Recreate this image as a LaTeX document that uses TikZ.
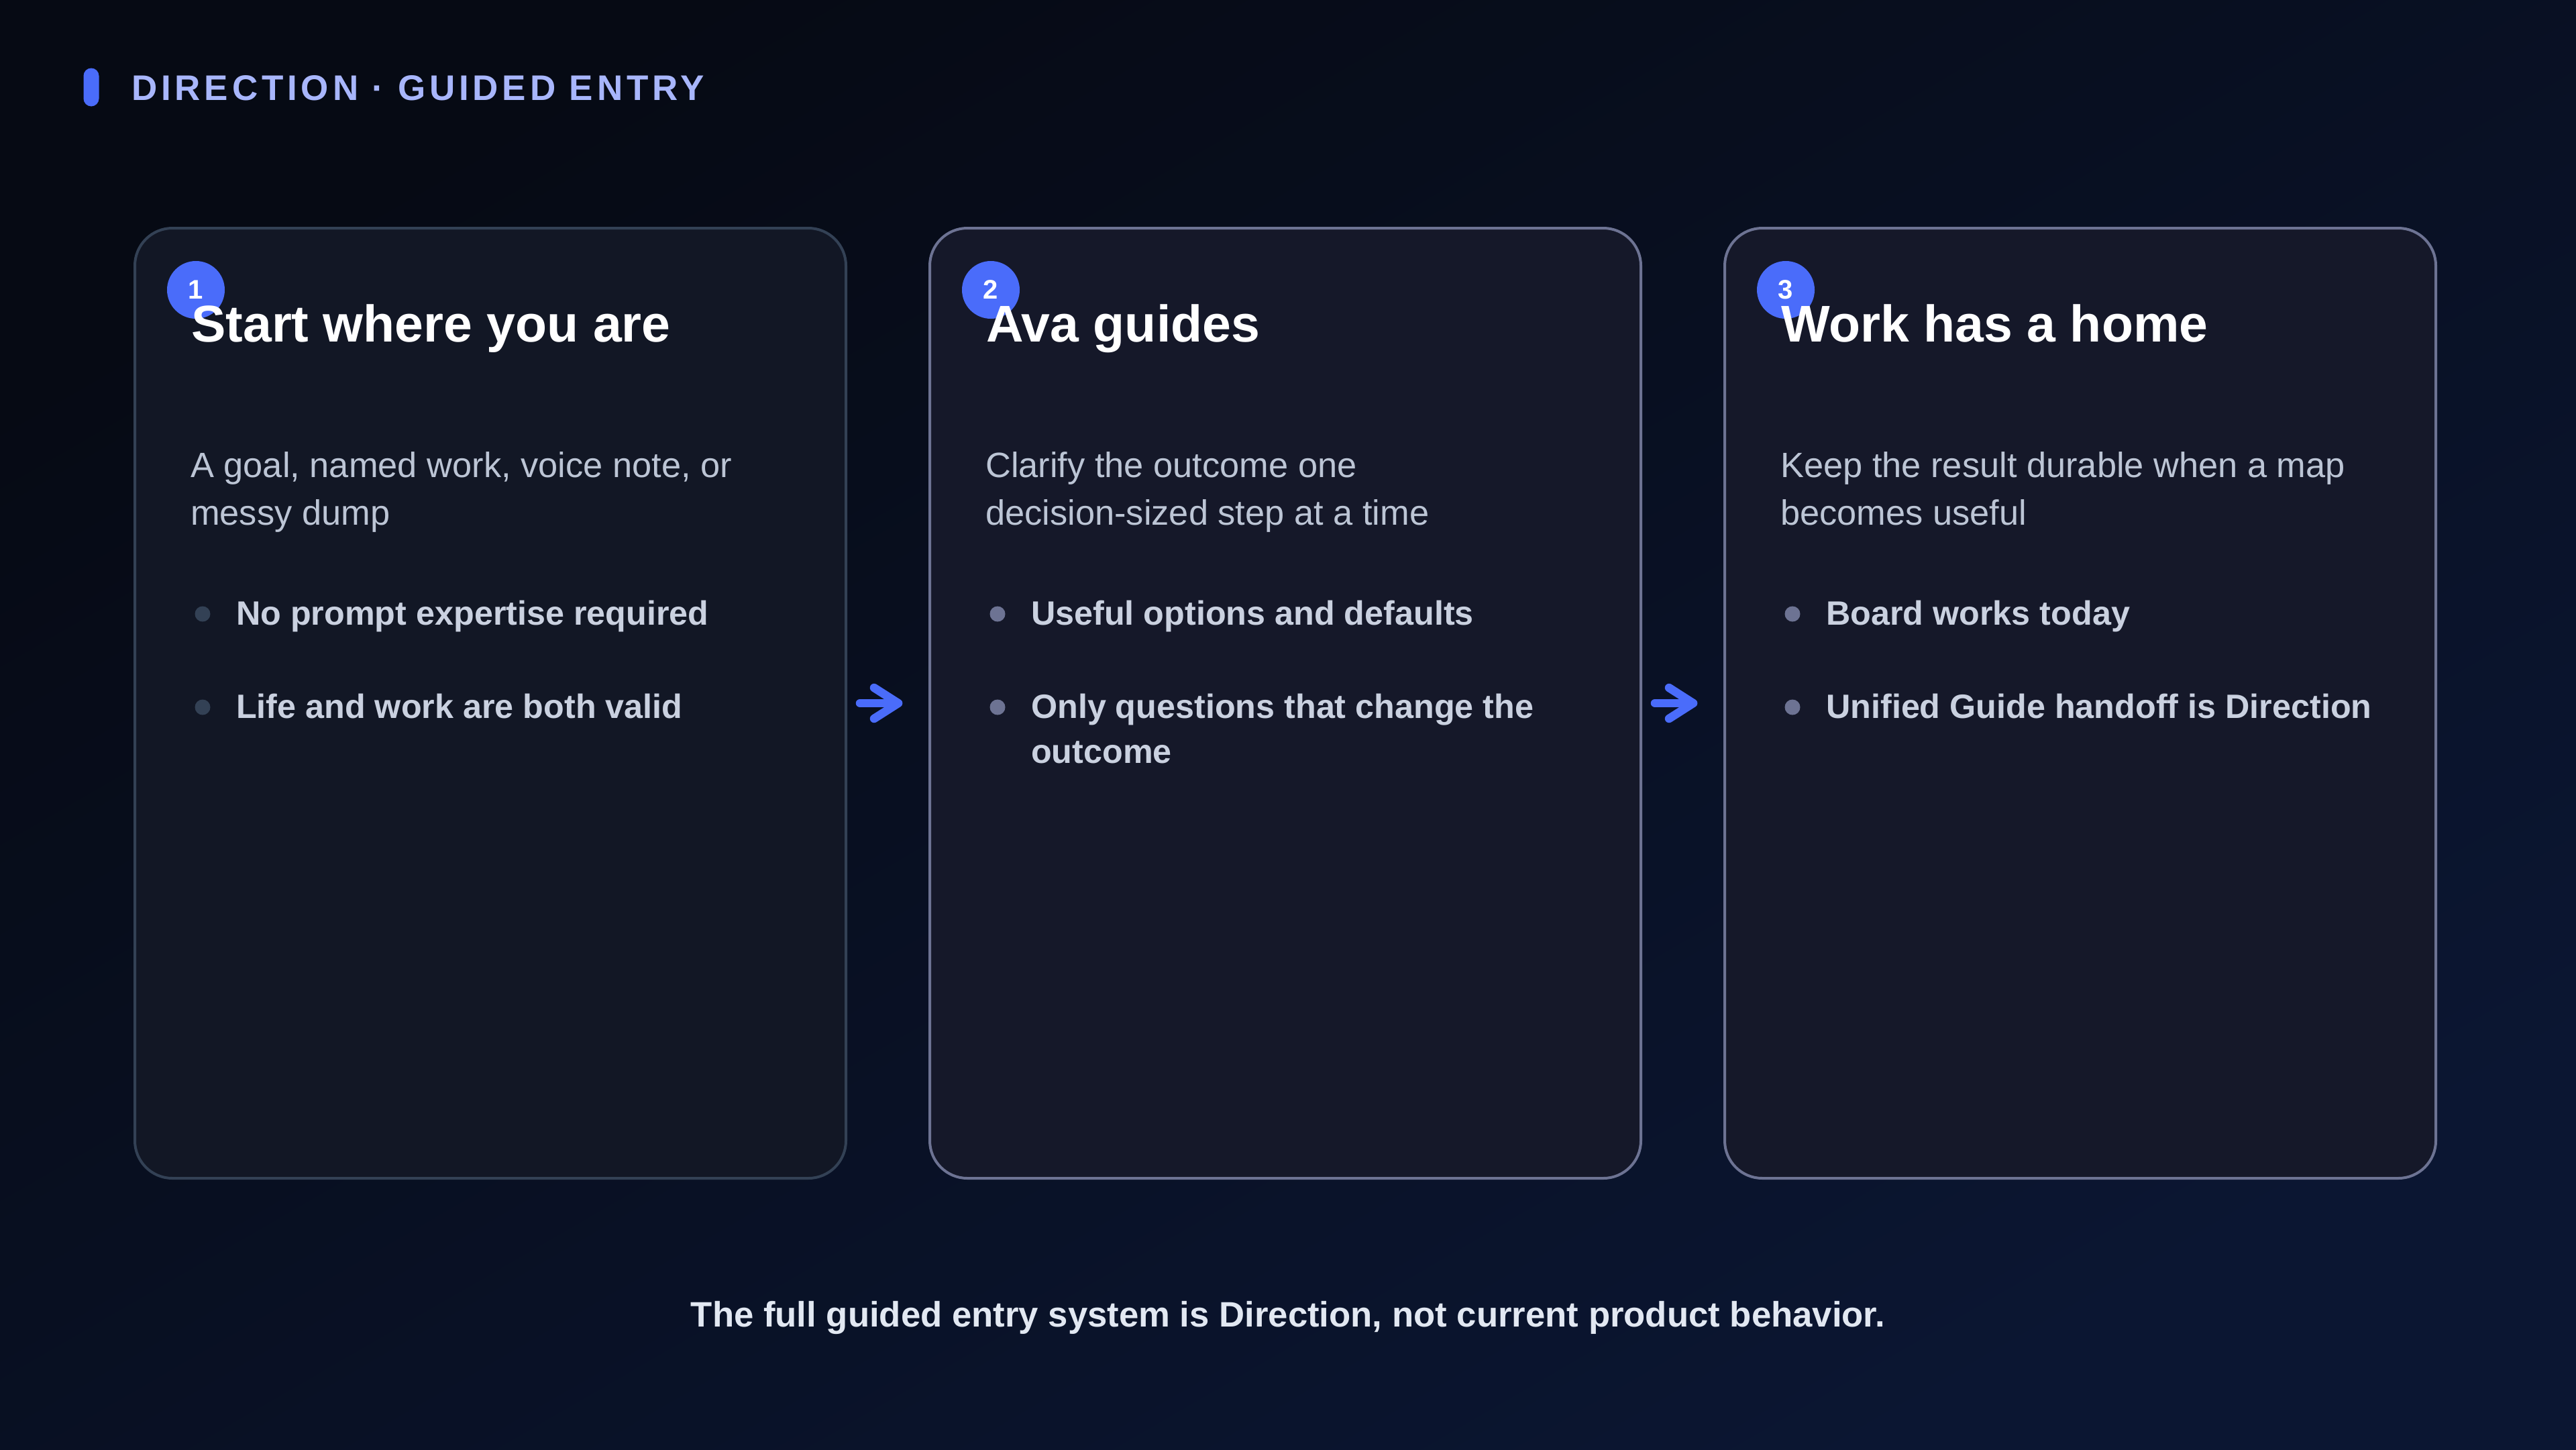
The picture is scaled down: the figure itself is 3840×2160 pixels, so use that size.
\documentclass[tikz,border=0pt]{standalone}
\usepackage{fontspec}
\setmainfont{Liberation Sans}
\newfontfamily\headfont[LetterSpace=11]{Liberation Sans}
\definecolor{bgA}{HTML}{060A14}
\definecolor{bgB}{HTML}{0B1632}
\definecolor{accent}{HTML}{4A6CFA}
\definecolor{headc}{HTML}{A8B6FC}
\definecolor{bordA}{HTML}{334155}
\definecolor{fillA}{HTML}{121725}
\definecolor{bordB}{HTML}{6D7393}
\definecolor{fillB}{HTML}{151829}
\definecolor{bodyc}{HTML}{BCC5D5}
\definecolor{bulc}{HTML}{CAD1E0}
\definecolor{footc}{HTML}{E2E8F2}
\begin{document}
\begin{tikzpicture}[x=1pt,y=-1pt,
  card/.style={draw, line width=4pt, rounded corners=56pt, minimum width=1060pt, minimum height=1416pt, inner sep=0pt, outer sep=0pt},
  carda/.style={card, draw=bordA, fill=fillA},
  cardb/.style={card, draw=bordB, fill=fillB},
  badge/.style={circle, fill=accent, minimum size=86pt, inner sep=0pt, text=white, font=\fontsize{40}{48}\selectfont\bfseries},
  ttl/.style={anchor=base west, inner sep=0pt, text=white, font=\fontsize{77}{92}\selectfont\bfseries},
  body/.style={anchor=base west, inner sep=0pt, align=left, text=bodyc, font=\fontsize{52.4}{71}\selectfont},
  btxt/.style={anchor=base west, inner sep=0pt, align=left, text=bulc, font=\fontsize{50.3}{67}\selectfont\bfseries},
  dota/.style={circle, minimum size=23pt, inner sep=0pt, fill=bordA},
  dotb/.style={circle, minimum size=23pt, inner sep=0pt, fill=bordB},
  flow/.style={draw=accent, line width=12.5pt, line cap=round, line join=round}
]
\useasboundingbox (0,0) rectangle (3840,2160);
\shade[top color=bgA, bottom color=bgB, shading angle=30] (0,0) rectangle (3840,2160);

% header
\node[fill=accent, rounded corners=11.5pt, minimum width=23pt, minimum height=57pt, inner sep=0pt] (bar) at (136,130) {};
\node[anchor=base west, inner sep=0pt, text=headc, font=\fontsize{53}{60}\selectfont\headfont\bfseries] (head) at (196,149) {DIRECTION · GUIDED ENTRY};

% cards
\node[carda] (c1) at (731,1048) {};
\node[cardb] (c2) at (1916,1048) {};
\node[cardb] (c3) at (3101,1048) {};

% card 1
\node[badge] (b1) at ([xshift=91pt,yshift=-92pt]c1.north west) {1};
\node[ttl] (t1) at ([xshift=84pt,yshift=-169pt]c1.north west) {Start where you are};
\node[body] (d1) at ([xshift=83pt,yshift=-442pt]c1.north west) {A goal, named work, voice note, or\\messy dump};
\node[dota] (p1a) at ([xshift=101pt,yshift=-575pt]c1.north west) {};
\node[btxt] (q1a) at ([xshift=151pt,yshift=-591pt]c1.north west) {No prompt expertise required};
\node[dota] (p1b) at ([xshift=101pt,yshift=-714pt]c1.north west) {};
\node[btxt] (q1b) at ([xshift=151pt,yshift=-730pt]c1.north west) {Life and work are both valid};

% card 2
\node[badge] (b2) at ([xshift=91pt,yshift=-92pt]c2.north west) {2};
\node[ttl] (t2) at ([xshift=84pt,yshift=-169pt]c2.north west) {Ava guides};
\node[body] (d2) at ([xshift=83pt,yshift=-442pt]c2.north west) {Clarify the outcome one\\decision-sized step at a time};
\node[dotb] (p2a) at ([xshift=101pt,yshift=-575pt]c2.north west) {};
\node[btxt] (q2a) at ([xshift=151pt,yshift=-591pt]c2.north west) {Useful options and defaults};
\node[dotb] (p2b) at ([xshift=101pt,yshift=-714pt]c2.north west) {};
\node[btxt] (q2b) at ([xshift=151pt,yshift=-797pt]c2.north west) {Only questions that change the\\outcome};

% card 3
\node[badge] (b3) at ([xshift=91pt,yshift=-92pt]c3.north west) {3};
\node[ttl] (t3) at ([xshift=84pt,yshift=-169pt]c3.north west) {Work has a home};
\node[body] (d3) at ([xshift=83pt,yshift=-442pt]c3.north west) {Keep the result durable when a map\\becomes useful};
\node[dotb] (p3a) at ([xshift=101pt,yshift=-575pt]c3.north west) {};
\node[btxt] (q3a) at ([xshift=151pt,yshift=-591pt]c3.north west) {Board works today};
\node[dotb] (p3b) at ([xshift=101pt,yshift=-714pt]c3.north west) {};
\node[btxt] (q3b) at ([xshift=151pt,yshift=-730pt]c3.north west) {Unified Guide handoff is Direction};

% arrows
\coordinate (tip1) at ([xshift=-47pt]c2.west);
\draw[flow] ([xshift=21pt]c1.east) -- (tip1);
\draw[flow] ([shift={(-36pt,23pt)}]tip1) -- (tip1) -- ([shift={(-36pt,-23pt)}]tip1);
\coordinate (tip2) at ([xshift=-47pt]c3.west);
\draw[flow] ([xshift=21pt]c2.east) -- (tip2);
\draw[flow] ([shift={(-36pt,23pt)}]tip2) -- (tip2) -- ([shift={(-36pt,-23pt)}]tip2);

% footer
\node[anchor=base, inner sep=0pt, text=footc, font=\fontsize{52.7}{60}\selectfont\bfseries] (foot) at (1920,1977) {The full guided entry system is Direction, not current product behavior.};
\end{tikzpicture}
\end{document}
